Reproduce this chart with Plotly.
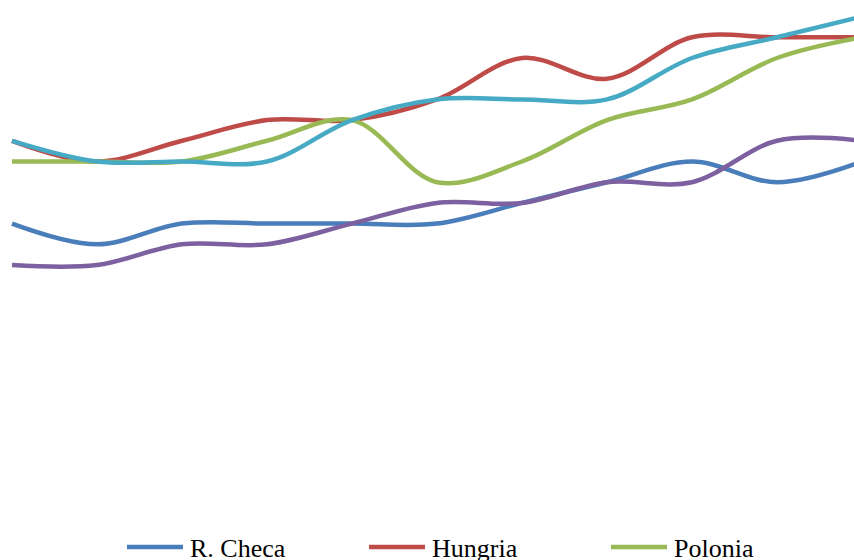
import plotly.graph_objects as go

# Periods along the horizontal axis (evenly spaced points)
periods = list(range(11))

# Series values per period
r_checa = [2, 1, 2, 2, 2, 2, 3, 4, 5, 4, 5]
hungria = [6, 5, 6, 7, 7, 8, 10, 9, 11, 11, 11]
polonia = [5, 5, 5, 6, 7, 4, 5, 7, 8, 10, 11]
eslovaquia = [0, 0, 1, 1, 2, 3, 3, 4, 4, 6, 6]
eslovenia = [6, 5, 5, 5, 7, 8, 8, 8, 10, 11, 12]

series = [
    ("R. Checa", r_checa, "#4A7EBB", True),
    ("Hungria", hungria, "#BE4B48", True),
    ("Polonia", polonia, "#98B954", True),
    ("Eslovaquia", eslovaquia, "#7D60A0", False),
    ("Eslovenia", eslovenia, "#46AAC5", False),
]

W, H = 854, 560

fig = go.Figure()
for name, vals, color, _ in series:
    fig.add_trace(go.Scatter(
        x=periods, y=vals, name=name, mode="lines",
        line=dict(color=color, width=4.5, shape="spline", smoothing=1.0),
        showlegend=False,
    ))

# Legend row along the bottom edge: a short coloured key line then the name
key_start, key_step, key_len, key_gap, key_y = 127, 242, 56, 5, 547
shapes, annotations = [], []
legend_items = [(n, c) for n, _, c, show in series if show]
for i, (name, color) in enumerate(legend_items):
    x0 = key_start + key_step * i
    shapes.append(dict(
        type="line", xref="paper", yref="paper",
        x0=x0 / W, x1=(x0 + key_len) / W,
        y0=1 - key_y / H, y1=1 - key_y / H,
        line=dict(color=color, width=4.5),
    ))
    annotations.append(dict(
        xref="paper", yref="paper",
        x=(x0 + key_len + key_gap) / W, y=1 - (key_y + 1) / H,
        xanchor="left", yanchor="middle", showarrow=False,
        text=name,
        font=dict(family="Liberation Serif", size=26, color="#000000"),
    ))

fig.update_layout(
    width=W, height=H,
    margin=dict(l=0, r=0, t=0, b=0),
    paper_bgcolor="white", plot_bgcolor="white",
    showlegend=False,
    xaxis=dict(range=[-12 / 85, 842 / 85], visible=False),
    yaxis=dict(range=[(265 - H) / 20.7, 265 / 20.7], visible=False),
    shapes=shapes,
    annotations=annotations,
)

fig.write_html("out.html")
